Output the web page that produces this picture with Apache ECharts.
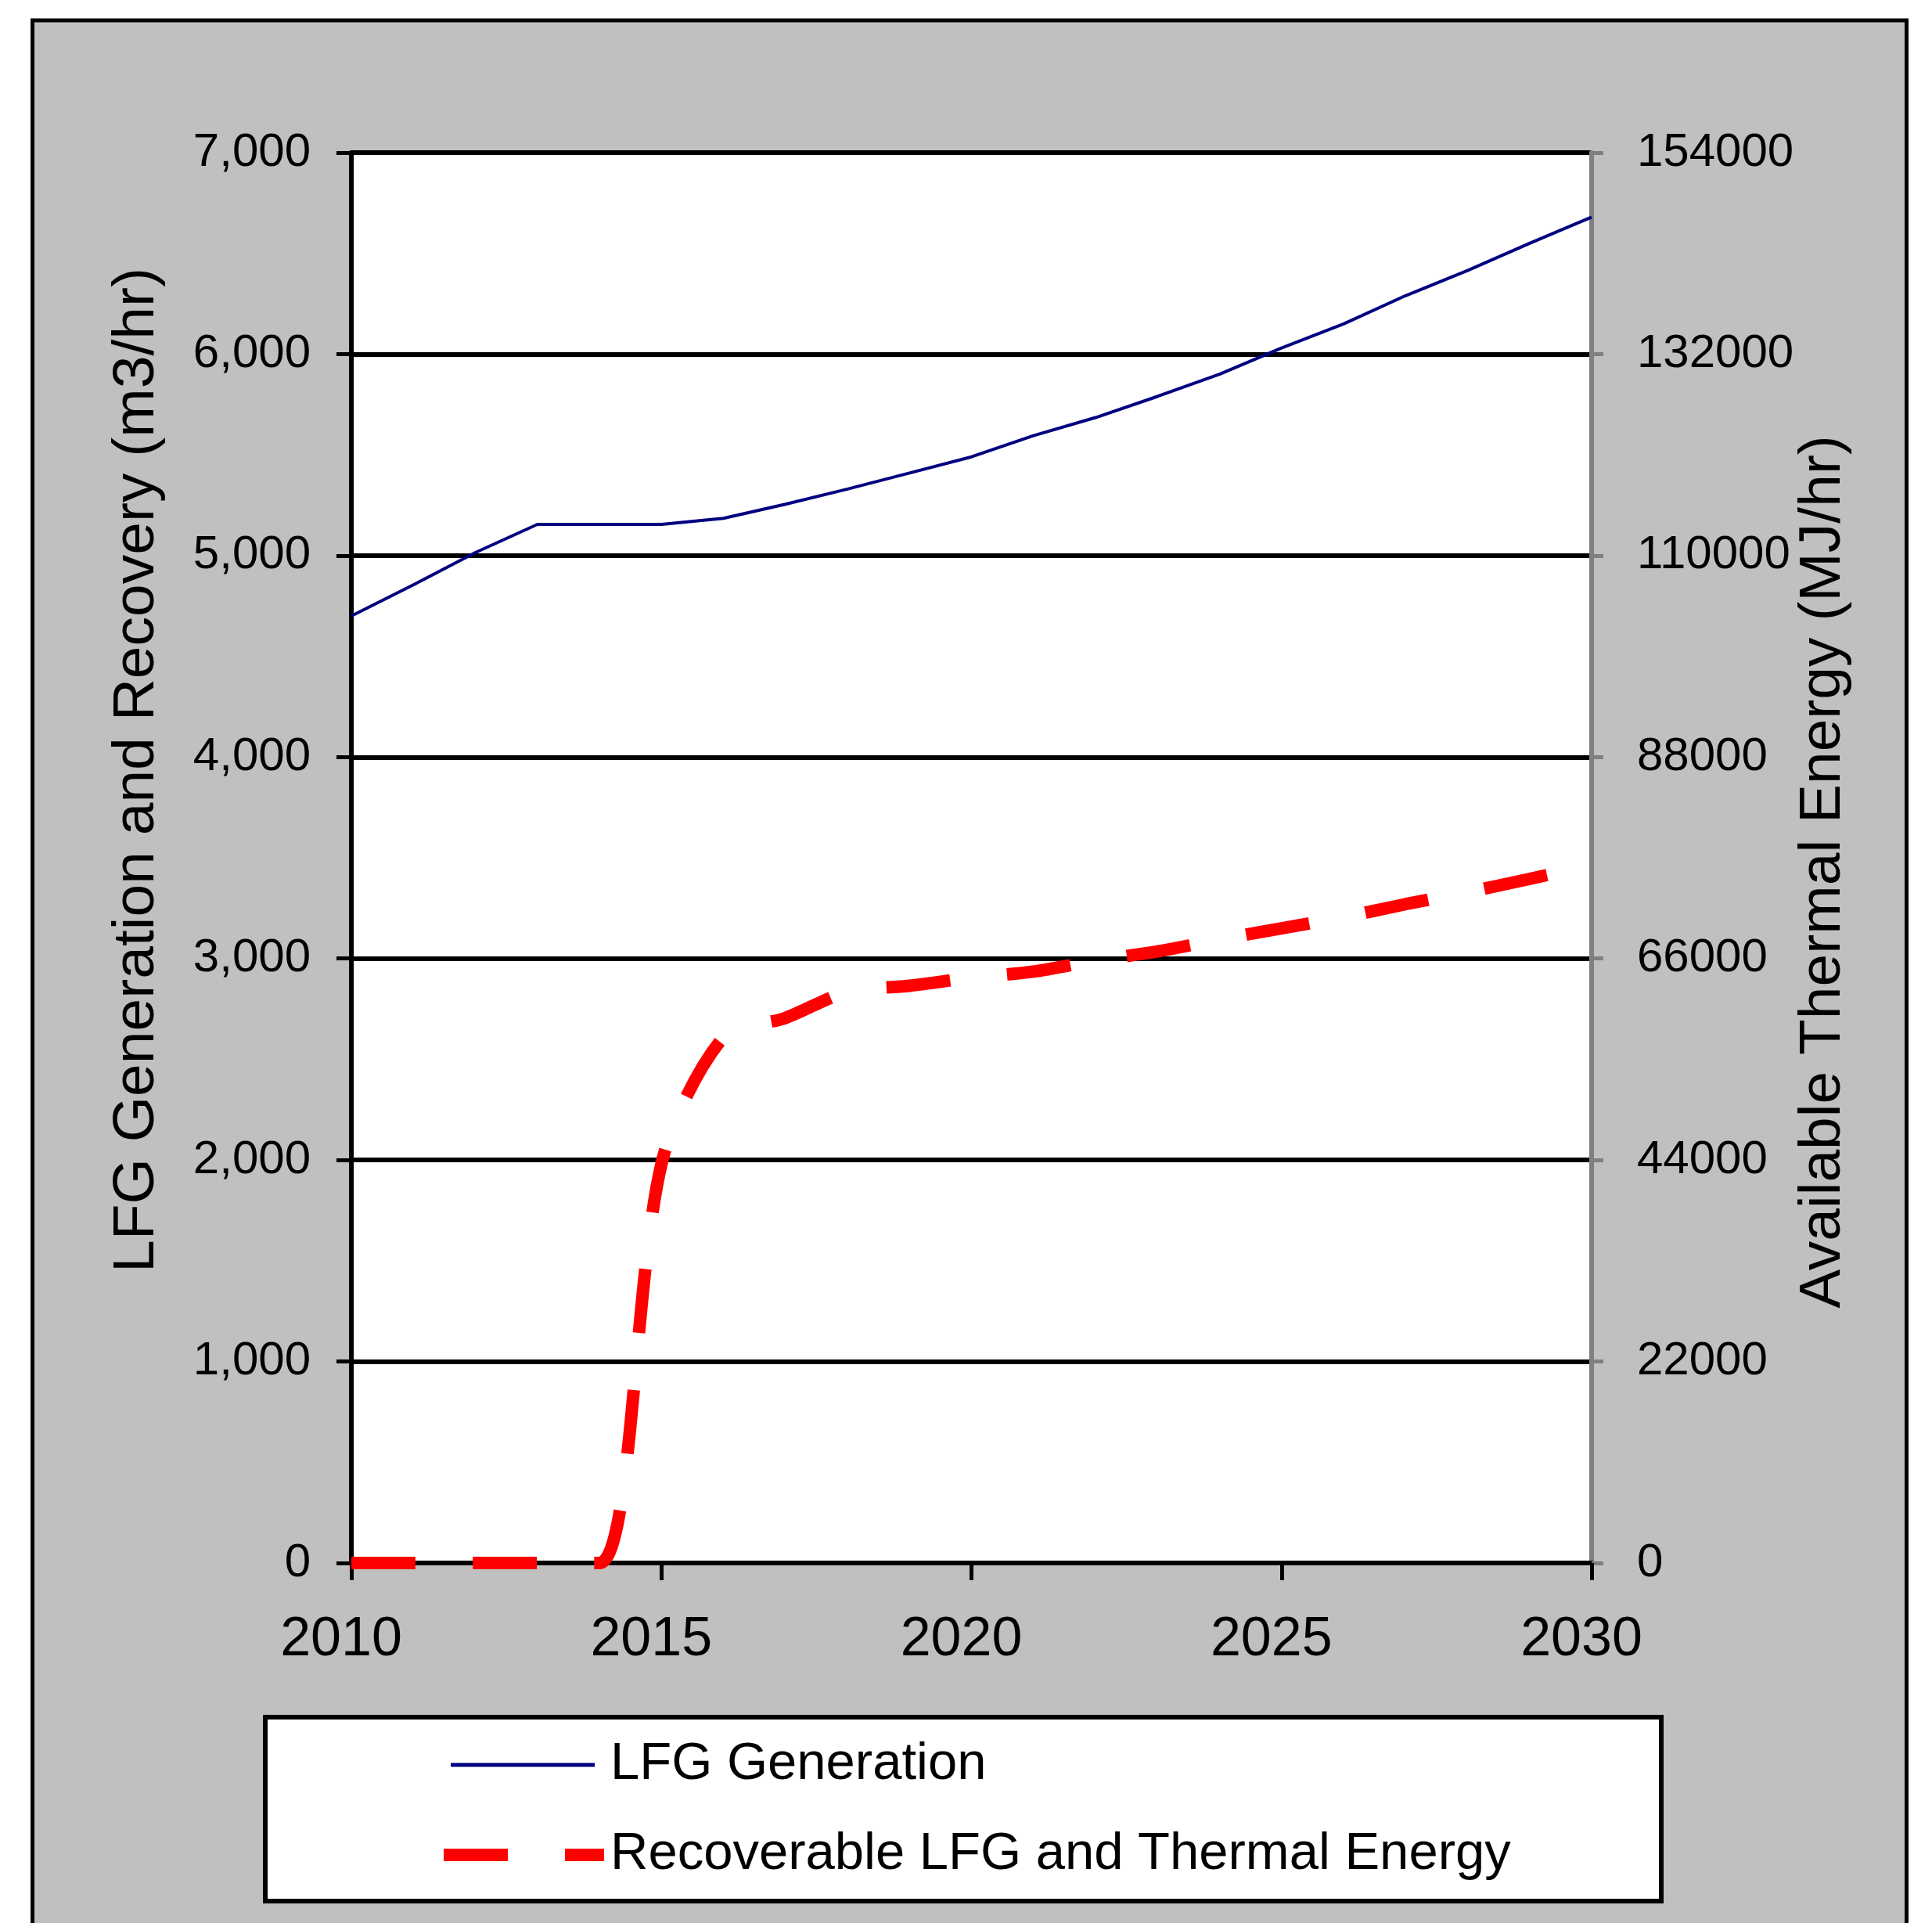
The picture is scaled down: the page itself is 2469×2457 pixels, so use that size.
<!DOCTYPE html>
<html>
<head>
<meta charset="utf-8">
<script src="https://cdn.jsdelivr.net/npm/echarts@6/dist/echarts.min.js"></script>
<style>
  html, body { margin: 0; padding: 0; background: #ffffff; }
  #chart { width: 2469px; height: 2457px; }
</style>
</head>
<body>
<div id="chart"></div>
<script>
// ---- Data ----
const years = [2010, 2011, 2012, 2013, 2014, 2015, 2016, 2017, 2018, 2019, 2020,
               2021, 2022, 2023, 2024, 2025, 2026, 2027, 2028, 2029, 2030];
const lfgGeneration = [4700, 4855, 5015, 5155, 5155, 5155, 5185, 5255, 5330, 5410, 5490,
                       5595, 5685, 5790, 5900, 6030, 6150, 6290, 6415, 6550, 6680];
const recoverable = [0, 0, 0, 0, 0, 1980, 2610, 2705, 2835, 2865, 2905,
                     2935, 2990, 3035, 3095, 3150, 3205, 3270, 3330, 3395, 3465];
const seriesNames = ['LFG Generation', 'Recoverable LFG and Thermal Energy'];
const leftTitle = 'LFG Generation and Recovery (m3/hr)';
const rightTitle = 'Available Thermal Energy (MJ/hr)';
const leftAxis = { min: 0, max: 7000, interval: 1000 };
const rightAxis = { min: 0, max: 154000, interval: 22000 };
const xAxisRange = { min: 2010, max: 2030, interval: 5 };

// ---- Chart ----
const FONT = '"Liberation Sans", Arial, sans-serif';
const chart = echarts.init(document.getElementById('chart'), null, { renderer: 'canvas' });

const pairs = (vals) => years.map((y, i) => [y, vals[i]]);

const option = {
  animation: false,
  backgroundColor: '#ffffff',
  textStyle: { fontFamily: FONT },
  graphic: {
    elements: [
      {
        type: 'rect', z: -100, silent: true,
        shape: { x: 41.5, y: 26, width: 2395, height: 2500 },
        style: { fill: '#C0C0C0', stroke: '#000000', lineWidth: 5 }
      },
      {
        type: 'rect', z: 1, silent: true,
        shape: { x: 339, y: 2194, width: 1784, height: 235 },
        style: { fill: '#ffffff', stroke: '#000000', lineWidth: 6 }
      },
      {
        type: 'text', z: 5, silent: true,
        x: 175, y: 984, rotation: Math.PI / 2,
        style: {
          text: leftTitle, fontSize: 75, fontFamily: FONT, fill: '#000000',
          align: 'center', verticalAlign: 'middle',
          textAlign: 'center', textVerticalAlign: 'middle'
        }
      },
      {
        type: 'text', z: 5, silent: true,
        x: 2330, y: 1114, rotation: Math.PI / 2,
        style: {
          text: rightTitle, fontSize: 75, fontFamily: FONT, fill: '#000000',
          align: 'center', verticalAlign: 'middle',
          textAlign: 'center', textVerticalAlign: 'middle'
        }
      }
    ]
  },
  grid: {
    left: 449, top: 195, width: 1585, height: 1802,
    show: true, backgroundColor: '#ffffff', borderWidth: 0,
    containLabel: false
  },
  legend: [
    {
      z: 10, left: 576, top: 2217, padding: 0, orient: 'horizontal',
      selectedMode: false, icon: 'rect', itemWidth: 184, itemHeight: 5,
      itemStyle: { borderWidth: 0 },
      data: [seriesNames[0]],
      textStyle: { fontSize: 67, fontFamily: FONT, color: '#000000', lineHeight: 76, padding: [0, 0, 0, 15] }
    },
    {
      z: 10, left: 567, top: 2332, padding: 0, orient: 'horizontal',
      selectedMode: false, icon: 'path://M0,0H82V16H0Z M155,0H205V16H155Z',
      itemWidth: 205, itemHeight: 16,
      itemStyle: { borderWidth: 0 },
      data: [seriesNames[1]],
      textStyle: { fontSize: 67, fontFamily: FONT, color: '#000000', lineHeight: 76, padding: [0, 0, 0, 3] }
    }
  ],
  xAxis: {
    type: 'value',
    min: xAxisRange.min, max: xAxisRange.max, interval: xAxisRange.interval,
    axisLine: { show: true, onZero: false, lineStyle: { color: '#000000', width: 6 } },
    axisTick: { show: true, inside: false, length: 22, lineStyle: { color: '#000000', width: 5 } },
    axisLabel: {
      fontSize: 70, fontFamily: FONT, color: '#000000', margin: 64,
      padding: [0, 26, 0, 0],
      formatter: (v) => String(v)
    },
    splitLine: { show: false }
  },
  yAxis: [
    {
      type: 'value', position: 'left',
      min: leftAxis.min, max: leftAxis.max, interval: leftAxis.interval,
      axisLine: { show: true, lineStyle: { color: '#000000', width: 6 } },
      axisTick: { show: true, inside: false, length: 19, lineStyle: { color: '#000000', width: 5 } },
      axisLabel: {
        fontSize: 60, fontFamily: FONT, color: '#000000', margin: 52,
        padding: [0, 0, 8, 0],
        formatter: (v) => v.toLocaleString('en-US')
      },
      splitLine: { show: true, lineStyle: { color: '#000000', width: 6 } }
    },
    {
      type: 'value', position: 'right',
      min: rightAxis.min, max: rightAxis.max, interval: rightAxis.interval,
      axisLine: { show: true, lineStyle: { color: '#808080', width: 6 } },
      axisTick: { show: true, inside: false, length: 15, lineStyle: { color: '#808080', width: 5 } },
      axisLabel: {
        fontSize: 60, fontFamily: FONT, color: '#000000', margin: 58,
        padding: [0, 0, 8, 0],
        formatter: (v) => String(v)
      },
      splitLine: { show: false }
    }
  ],
  series: [
    {
      name: seriesNames[0], type: 'line', yAxisIndex: 0,
      data: pairs(lfgGeneration),
      symbol: 'none', smooth: false, z: 3,
      color: '#000080',
      lineStyle: { color: '#000080', width: 4 }
    },
    {
      name: seriesNames[1], type: 'line', yAxisIndex: 0,
      data: pairs(recoverable),
      symbol: 'none', smooth: 0.3, z: 4,
      color: '#FF0000',
      lineStyle: { color: '#FF0000', width: 16, type: [82, 73], cap: 'butt' }
    }
  ]
};
chart.setOption(option);
</script>
</body>
</html>
